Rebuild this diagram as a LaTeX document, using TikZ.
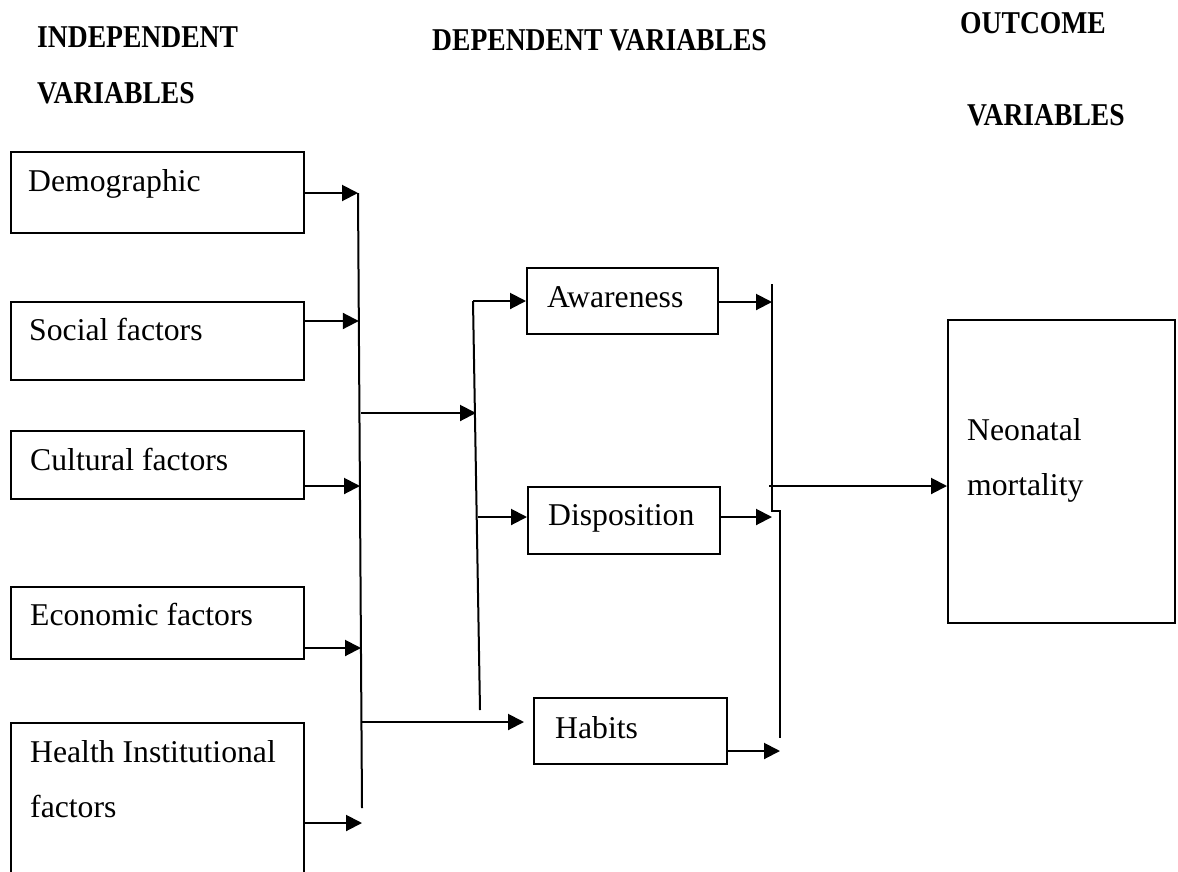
\documentclass[tikz,border=0pt]{standalone}
\usepackage{fontspec}
\setmainfont{Liberation Serif}
\usetikzlibrary{arrows.meta}
\newcommand{\tallhead}[1]{\scalebox{1}[1.15]{#1}}
\tikzset{
  box/.style={draw, line width=2pt, inner sep=0pt, anchor=north west},
  lbl/.style={anchor=base west, inner sep=0pt, font=\fontsize{31.7}{38}\selectfont},
  head/.style={anchor=base west, inner sep=0pt, font=\fontsize{27.6}{33}\selectfont\bfseries},
  conn/.style={line width=2pt},
  arr/.style={line width=2pt, -{Triangle[length=16pt,width=16pt]}}
}
\begin{document}
\begin{tikzpicture}[x=1pt,y=-1pt]
\clip (0,0) rectangle (1178,871);
\useasboundingbox (0,0) rectangle (1178,871);
% headings
\node[head] (h1) at (37,47) {\tallhead{INDEPENDENT}};
\node[head] (h2) at (37,103) {\tallhead{VARIABLES}};
\node[head] (h3) at (432,50) {\tallhead{DEPENDENT VARIABLES}};
\node[head] (h4) at (960,33) {\tallhead{OUTCOME}};
\node[head] (h5) at (967,125) {\tallhead{VARIABLES}};
% left boxes
\node[box, minimum width=293pt, minimum height=81pt] (demo) at (10,151) {};
\node[box, minimum width=293pt, minimum height=78pt] (soc) at (10,301) {};
\node[box, minimum width=293pt, minimum height=68pt] (cult) at (10,430) {};
\node[box, minimum width=293pt, minimum height=72pt] (econ) at (10,586) {};
\node[box, minimum width=293pt, minimum height=180pt] (hlth) at (10,722) {};
\node[lbl] (tdemo) at (28,191) {Demographic};
\node[lbl] (tsoc) at (29,340) {Social factors};
\node[lbl] (tcult) at (30,470) {Cultural factors};
\node[lbl] (tecon) at (30,625) {Economic factors};
\node[lbl] (thl1) at (30,762) {Health Institutional};
\node[lbl] (thl2) at (30,817) {factors};
% middle boxes
\node[box, minimum width=191pt, minimum height=66pt] (awr) at (526,267) {};
\node[box, minimum width=192pt, minimum height=67pt] (disp) at (527,486) {};
\node[box, minimum width=193pt, minimum height=66pt] (hab) at (533,697) {};
\node[lbl] (tawr) at (547,307) {Awareness};
\node[lbl] (tdisp) at (548,525) {Disposition};
\node[lbl] (thab) at (555,738) {Habits};
% outcome box
\node[box, minimum width=227pt, minimum height=303pt] (neo) at (947,319) {};
\node[lbl] (tneo1) at (967,440) {Neonatal};
\node[lbl] (tneo2) at (967,495) {mortality};
% bus lines
\coordinate (b1top) at (358,193);
\coordinate (b1bot) at (362,808);
\coordinate (b1a) at (358,193);
\coordinate (b1b) at (358.8,321);
\coordinate (b1c) at (360,486);
\coordinate (b1d) at (361,648);
\coordinate (b1e) at (362,823);
\coordinate (b1m) at (361,413);
\coordinate (b1h) at (362,722);
\draw[conn] (b1top) -- (b1bot);
\draw[arr] (demo.east |- b1a) -- (b1a);
\draw[arr] (soc.east |- b1b) -- (b1b);
\draw[arr] (cult.east |- b1c) -- (b1c);
\draw[arr] (econ.east |- b1d) -- (b1d);
\draw[arr] (hlth.east |- b1e) -- (b1e);
\coordinate (b2top) at (473,301);
\coordinate (b2bot) at (480,710);
\coordinate (b2m) at (476,413);
\coordinate (b2d) at (478,517);
\draw[conn] (b2top) -- (b2bot);
\draw[arr] (b1m) -- (b2m);
\draw[arr] (b2top) -- (awr.west |- b2top);
\draw[arr] (b2d) -- (disp.west |- b2d);
\coordinate (habin) at (524,722);
\draw[arr] (b1h) -- (habin);
% right bus
\coordinate (b3top) at (772,284);
\coordinate (b3j1) at (772,511);
\coordinate (b3j2) at (780,511);
\coordinate (b3bot) at (780,738);
\coordinate (b3a) at (772,302);
\coordinate (b3b) at (772,517);
\coordinate (b3c) at (780,751);
\coordinate (b3o) at (769,486);
\draw[conn] (b3top) -- (b3j1) -- (b3j2) -- (b3bot);
\draw[arr] (awr.east |- b3a) -- (b3a);
\draw[arr] (disp.east |- b3b) -- (b3b);
\draw[arr] (hab.east |- b3c) -- (b3c);
\draw[arr] (b3o) -- (neo.west |- b3o);
\end{tikzpicture}
\end{document}
